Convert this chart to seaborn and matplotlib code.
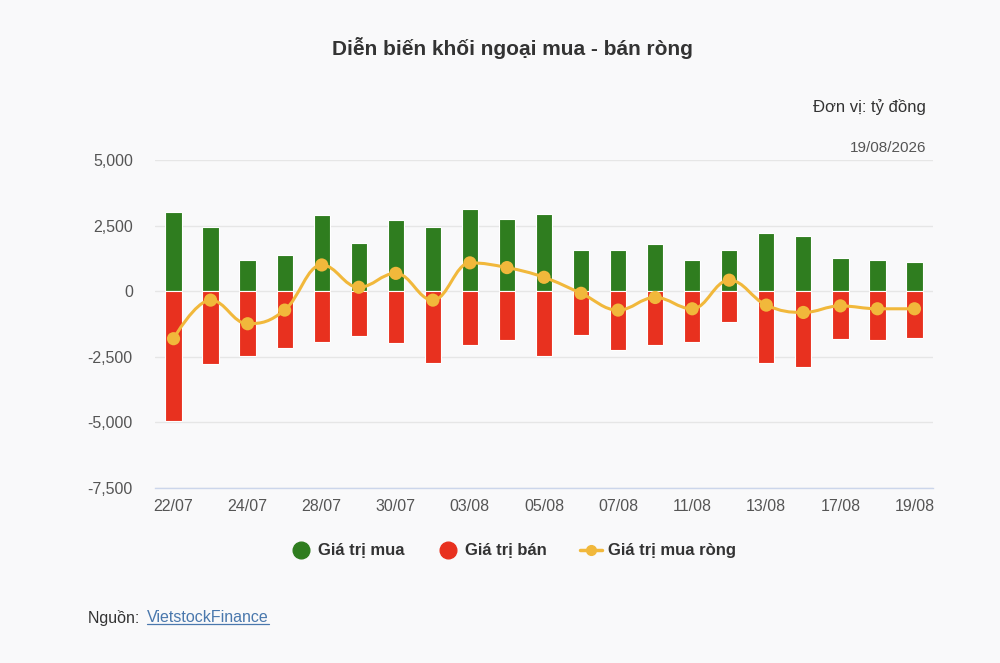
import numpy as np
import pandas as pd
import matplotlib
matplotlib.use("Agg")
import matplotlib.pyplot as plt
import seaborn as sns
from matplotlib.path import Path
from matplotlib.patches import PathPatch
from matplotlib.lines import Line2D
from matplotlib.ticker import FuncFormatter

# Data (tỷ đồng)
dates = ["22/07", "23/07", "24/07", "27/07", "28/07", "29/07", "30/07", "31/07",
         "03/08", "04/08", "05/08", "06/08", "07/08", "10/08", "11/08", "12/08",
         "13/08", "14/08", "17/08", "18/08", "19/08"]
buy = [3020, 2430, 1200, 1370, 2910, 1850, 2700, 2430, 3130, 2750, 2960,
       1580, 1580, 1800, 1200, 1580, 2220, 2110, 1270, 1200, 1100]
sell = [-4930, -2790, -2470, -2150, -1920, -1720, -1990, -2730, -2040, -1870, -2470,
        -1660, -2240, -2040, -1920, -1180, -2730, -2890, -1820, -1870, -1770]
net = [-1810, -340, -1240, -720, 1000, 150, 680, -340, 1080, 900, 530,
       -80, -720, -240, -670, 420, -530, -810, -560, -670, -670]
shown_ticks = ["22/07", "24/07", "28/07", "30/07", "03/08", "05/08", "07/08",
               "11/08", "13/08", "17/08", "19/08"]

GREEN = "#2f7d1f"
RED = "#e8311f"
YELLOW = "#f1b83b"
BG = "#f9f9fa"

df = pd.DataFrame({"date": dates, "buy": buy, "sell": sell, "net": net})
df["pos"] = np.arange(len(df))


def spline_path(xs, ys, smoothing=1.5):
    # smooth curve through the points, Highcharts-style cubic segments
    n = len(xs)
    left = [None] * n
    right = [None] * n
    for i in range(1, n - 1):
        x, y = xs[i], ys[i]
        lx, ly = xs[i - 1], ys[i - 1]
        nx, ny = xs[i + 1], ys[i + 1]
        d = smoothing + 1
        lcx, lcy = (smoothing * x + lx) / d, (smoothing * y + ly) / d
        rcx, rcy = (smoothing * x + nx) / d, (smoothing * y + ny) / d
        corr = ((rcy - lcy) * (rcx - x)) / (rcx - lcx) + y - rcy
        lcy += corr
        rcy += corr
        if lcy > max(ly, y):
            lcy = max(ly, y)
            rcy = 2 * y - lcy
        elif lcy < min(ly, y):
            lcy = min(ly, y)
            rcy = 2 * y - lcy
        if rcy > max(y, ny):
            rcy = max(y, ny)
            lcy = 2 * y - rcy
        elif rcy < min(y, ny):
            rcy = min(y, ny)
            lcy = 2 * y - rcy
        left[i] = (lcx, lcy)
        right[i] = (rcx, rcy)
    right[0] = (xs[0], ys[0])
    left[n - 1] = (xs[-1], ys[-1])
    verts = [(xs[0], ys[0])]
    codes = [Path.MOVETO]
    for i in range(1, n):
        verts += [right[i - 1], left[i], (xs[i], ys[i])]
        codes += [Path.CURVE4] * 3
    return Path(verts, codes)


sns.set_style("white")
plt.rcParams["font.family"] = ["Liberation Sans", "DejaVu Sans"]

fig = plt.figure(figsize=(10, 6.63), dpi=100, facecolor=BG)
ax = fig.add_axes([0.155, 1 - 488 / 663, 0.778, (488 - 160) / 663])
ax.set_facecolor(BG)

sns.barplot(data=df, x="date", y="buy", color=GREEN, width=0.44, saturation=1,
            edgecolor="white", linewidth=0.8, ax=ax, zorder=2)
sns.barplot(data=df, x="date", y="sell", color=RED, width=0.44, saturation=1,
            edgecolor="white", linewidth=0.8, ax=ax, zorder=2)

ax.add_patch(PathPatch(spline_path(df["pos"].tolist(), df["net"].tolist()),
                       facecolor="none", edgecolor=YELLOW, lw=2.2, zorder=3))
sns.scatterplot(data=df, x="pos", y="net", color=YELLOW, s=90, edgecolor="none",
                ax=ax, zorder=4)

ax.set_xlim(-0.5, len(dates) - 0.5)
ax.set_ylim(-7500, 5000)
ax.set_yticks([-7500, -5000, -2500, 0, 2500, 5000])
ax.yaxis.set_major_formatter(FuncFormatter(lambda v, p: f"{int(v):,}"))
ax.set_xticks([dates.index(d) for d in shown_ticks])
ax.set_xticklabels(shown_ticks)
ax.grid(axis="y", color="#e6e6e6", lw=1, zorder=0)
ax.set_axisbelow(True)
for s in ["top", "left", "right"]:
    ax.spines[s].set_visible(False)
ax.spines["bottom"].set_color("#ccd6eb")
ax.spines["bottom"].set_linewidth(1)
ax.tick_params(axis="both", length=0, labelsize=11.5, colors="#555555")
ax.tick_params(axis="y", pad=16)
ax.tick_params(axis="x", pad=8)
ax.set_xlabel("")
ax.set_ylabel("")

fig.text(0.512, 1 - 48 / 663, "Diễn biến khối ngoại mua - bán ròng", ha="center",
         va="center", fontsize=15, fontweight="bold", color="#333333")
fig.text(0.926, 1 - 107 / 663, "Đơn vị: tỷ đồng", ha="right", va="center",
         fontsize=12, color="#333333")
fig.text(0.926, 1 - 148 / 663, "19/08/2026", ha="right", va="center",
         fontsize=11, color="#555555")

handles = [
    Line2D([], [], ls="none", marker="o", ms=12, color=GREEN),
    Line2D([], [], ls="none", marker="o", ms=12, color=RED),
    Line2D([], [], color=YELLOW, lw=2.5, marker="o", ms=7),
]
fig.legend(handles, ["Giá trị mua", "Giá trị bán", "Giá trị mua ròng"],
           loc="center", bbox_to_anchor=(0.513, 1 - 551 / 663), ncol=3,
           frameon=False, prop={"size": 12, "weight": "bold"},
           labelcolor="#333333", handlelength=1.3, handletextpad=0.35,
           columnspacing=2.0)

fig.text(0.088, 1 - 618 / 663, "Nguồn: ", ha="left", va="center",
         fontsize=11.5, color="#333333")
src = fig.text(0.147, 1 - 618 / 663, "VietstockFinance", ha="left", va="center",
               fontsize=11.5, color="#4a78ad")
fig.canvas.draw()
bb = src.get_window_extent().transformed(fig.transFigure.inverted())
fig.add_artist(Line2D([bb.x0, bb.x1], [bb.y0 + 0.002, bb.y0 + 0.002],
                      transform=fig.transFigure, color="#4a78ad", lw=0.9))

fig.savefig("out.png", dpi=100, facecolor=BG)
